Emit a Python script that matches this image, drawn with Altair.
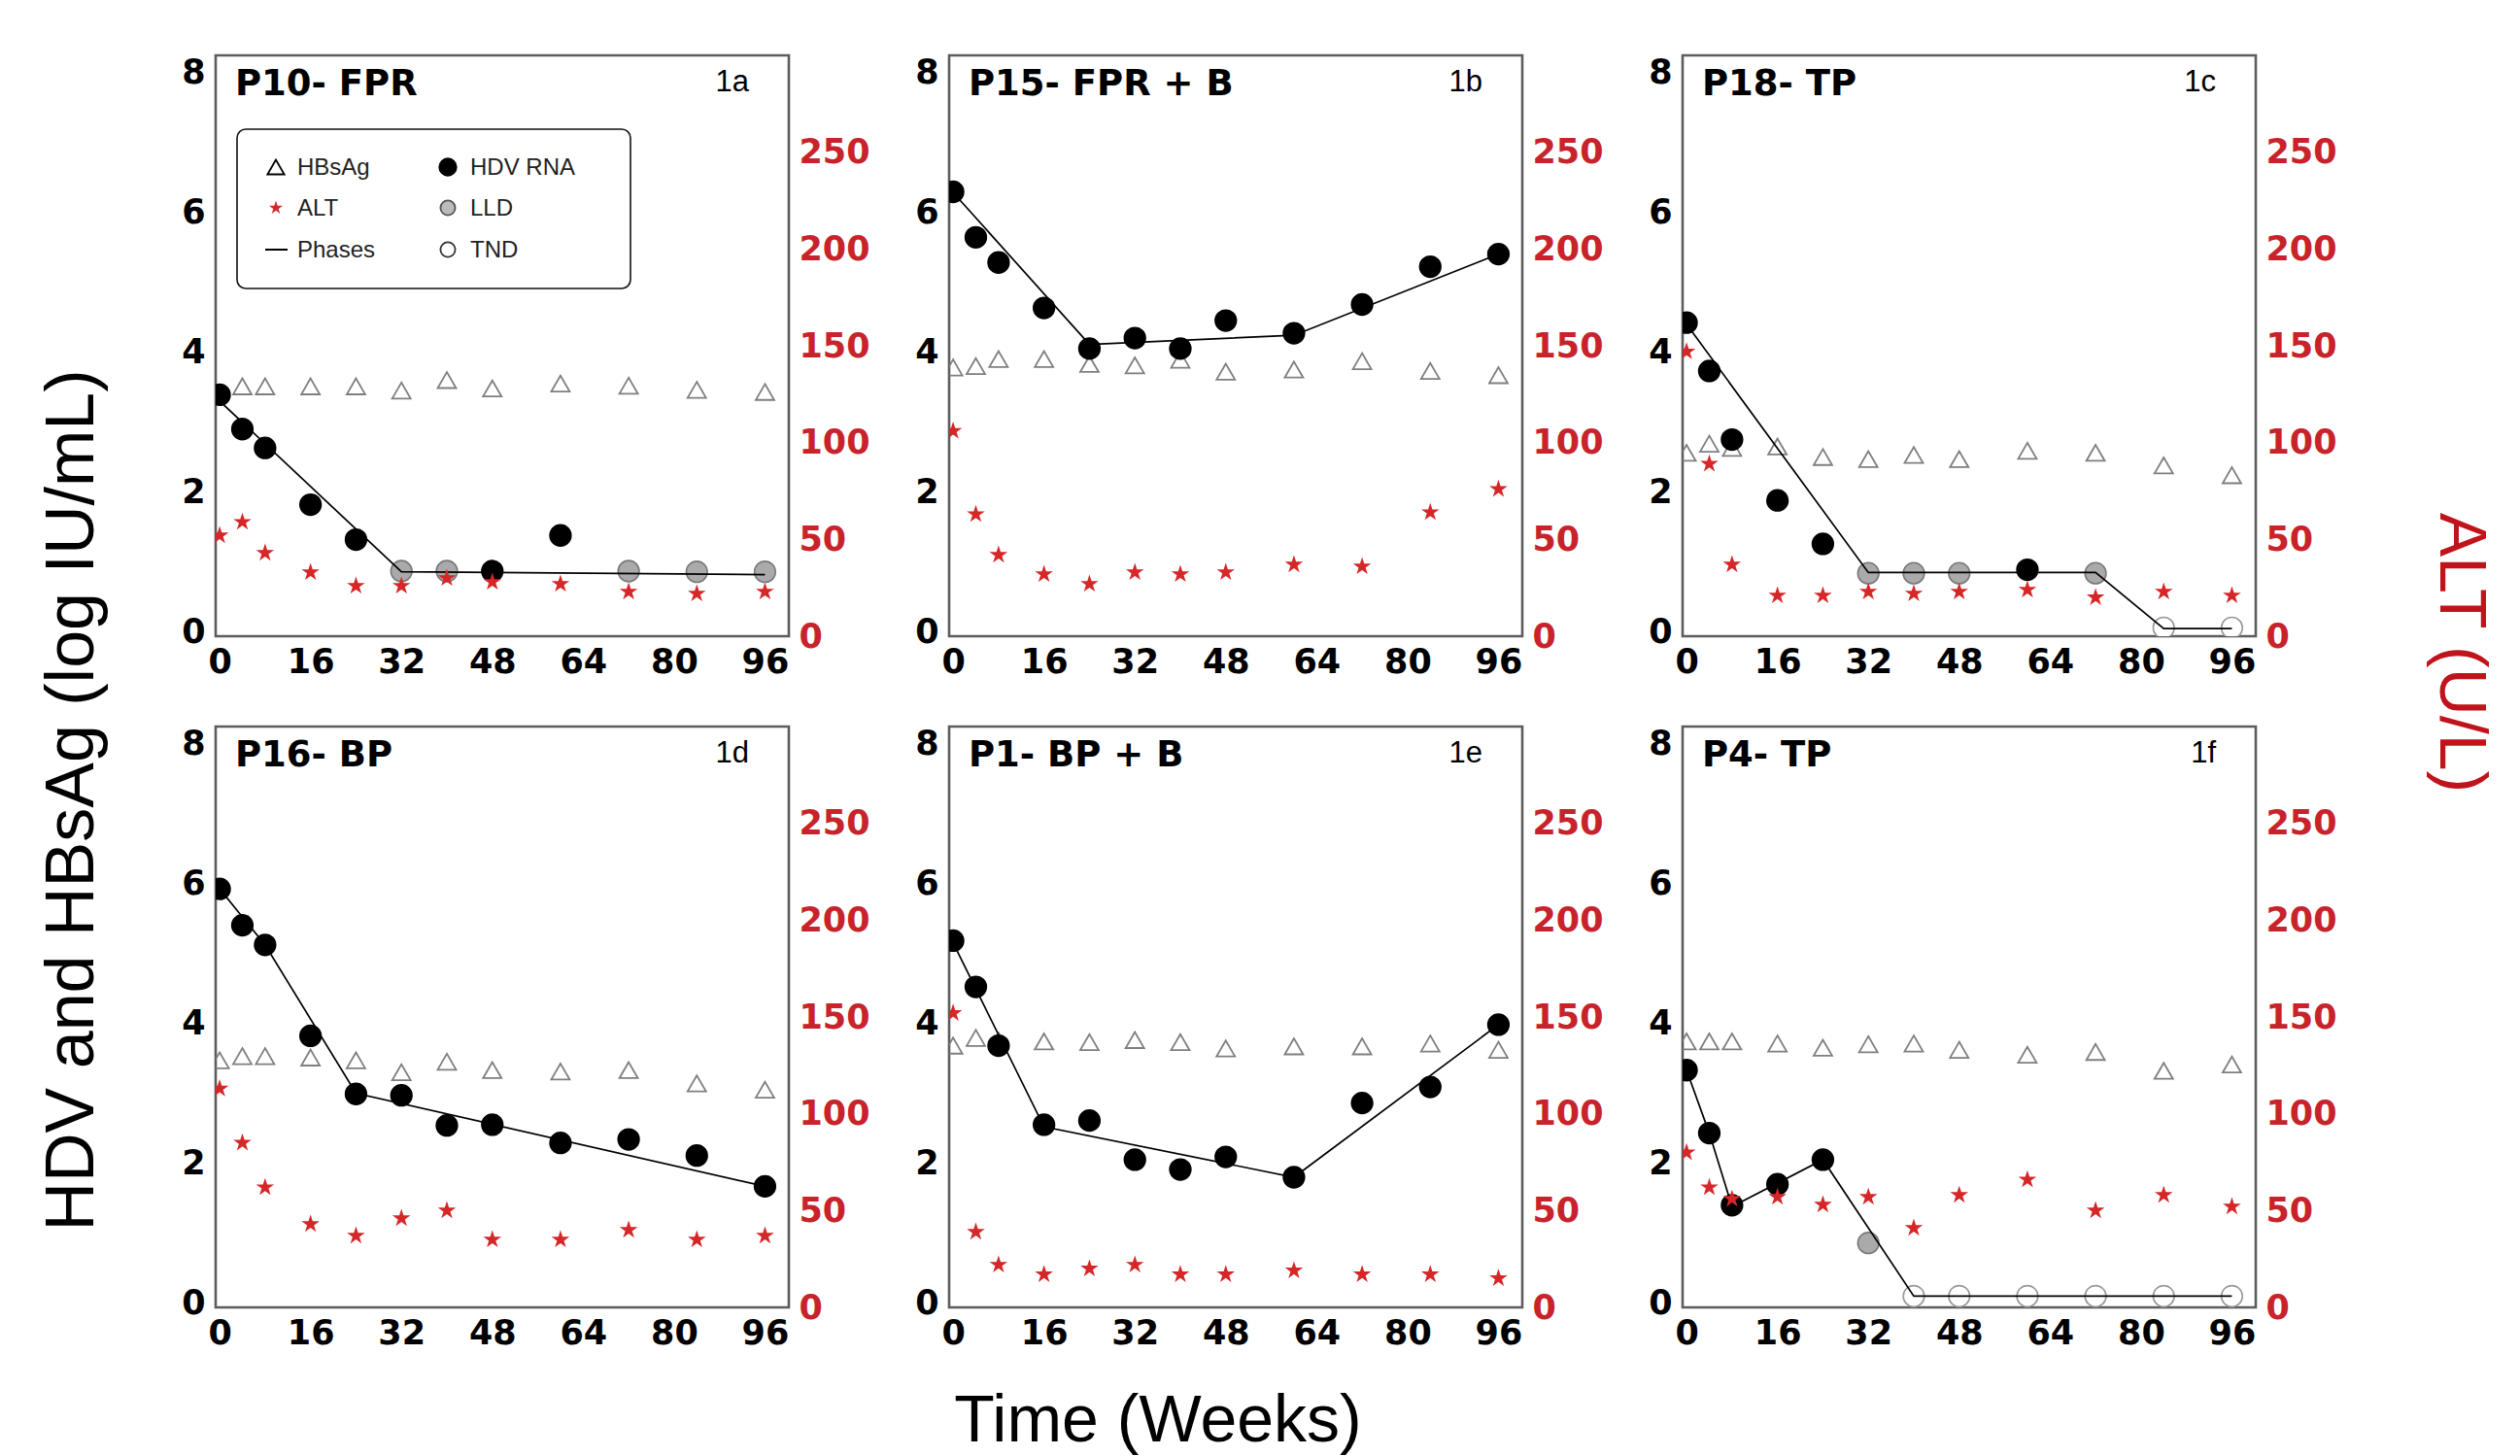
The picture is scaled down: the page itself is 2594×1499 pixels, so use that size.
import altair as alt
import pandas as pd

# ---------------- data ----------------
weeks = [0, 4, 8, 16, 24, 32, 40, 48, 60, 72, 84, 96]
panel_names = ["P10- FPR", "P15- FPR + B", "P18- TP", "P16- BP", "P1- BP + B", "P4- TP"]
panel_tags = ["1a", "1b", "1c", "1d", "1e", "1f"]

# HBsAg (log IU/mL)
hbsag_p10 = [None, 3.51, 3.51, 3.51, 3.51, 3.45, 3.60, 3.48, 3.55, 3.52, 3.46, 3.43]
hbsag_p15 = [3.78, 3.80, 3.90, 3.90, 3.83, 3.81, 3.89, 3.72, 3.75, 3.87, 3.73, 3.67]
hbsag_p18 = [2.56, 2.69, 2.63, 2.65, 2.50, 2.47, 2.53, 2.47, 2.59, 2.56, 2.38, 2.24]
hbsag_p16 = [3.47, 3.53, 3.53, 3.51, 3.47, 3.30, 3.45, 3.33, 3.31, 3.33, 3.14, 3.05]
hbsag_p1 = [3.68, 3.79, 3.75, 3.74, 3.73, 3.76, 3.73, 3.64, 3.67, 3.67, 3.71, 3.62]
hbsag_p4 = [3.74, 3.74, 3.74, 3.71, 3.65, 3.70, 3.71, 3.62, 3.55, 3.59, 3.32, 3.41]

# HDV RNA (log IU/mL)
hdv_p10 = [3.39, 2.90, 2.63, 1.82, 1.32, 0.87, 0.87, 0.87, 1.38, 0.87, 0.86, 0.86]
hdv_p15 = [6.29, 5.64, 5.28, 4.63, 4.05, 4.20, 4.05, 4.45, 4.27, 4.68, 5.22, 5.40]
hdv_p18 = [4.42, 3.73, 2.75, 1.88, 1.26, 0.84, 0.84, 0.84, 0.89, 0.84, 0.06, 0.06]
hdv_p16 = [5.92, 5.40, 5.12, 3.82, 2.99, 2.97, 2.54, 2.55, 2.29, 2.34, 2.11, 1.67]
hdv_p1 = [5.18, 4.52, 3.68, 2.55, 2.61, 2.05, 1.91, 2.09, 1.80, 2.86, 3.09, 3.98]
hdv_p4 = [3.33, 2.43, 1.40, 1.70, 2.05, 0.86, 0.10, 0.10, 0.10, 0.10, 0.10, 0.10]

# HDV RNA status: D = detected, L = below LLD, T = target not detected
status_p10 = ["D", "D", "D", "D", "D", "L", "L", "D", "D", "L", "L", "L"]
status_p15 = ["D"] * 12
status_p18 = ["D", "D", "D", "D", "D", "L", "L", "L", "D", "L", "T", "T"]
status_p16 = ["D"] * 12
status_p1 = ["D"] * 12
status_p4 = ["D", "D", "D", "D", "D", "L", "T", "T", "T", "T", "T", "T"]

# ALT (U/L)
alt_p10 = [52, 59, 43, 33, 26, 26, 30, 28, 27, 23, 22, 23]
alt_p15 = [106, 63, 42, 32, 27, 33, 32, 33, 37, 36, 64, 76]
alt_p18 = [147, 89, 37, 21, 21, 23, 22, 23, 24, 20, 23, 21]
alt_p16 = [113, 85, 62, 43, 37, 46, 50, 35, 35, 40, 35, 37]
alt_p1 = [152, 39, 22, 17, 20, 22, 17, 17, 19, 17, 17, 15]
alt_p4 = [80, 62, 56, 57, 53, 57, 41, 58, 66, 50, 58, 52]

# Phase lines (vertices)
phase_wk_p10 = [0, 32, 96]
phase_val_p10 = [3.30, 0.86, 0.82]
phase_wk_p15 = [0, 24, 60, 96]
phase_val_p15 = [6.28, 4.11, 4.24, 5.40]
phase_wk_p18 = [0, 32, 72, 84, 96]
phase_val_p18 = [4.40, 0.85, 0.85, 0.05, 0.05]
phase_wk_p16 = [0, 8, 24, 96]
phase_val_p16 = [5.92, 5.12, 3.00, 1.67]
phase_wk_p1 = [0, 16, 60, 96]
phase_val_p1 = [5.15, 2.52, 1.80, 3.98]
phase_wk_p4 = [0, 4, 8, 24, 40, 96]
phase_val_p4 = [3.33, 2.43, 1.38, 2.05, 0.10, 0.10]

x_ticks = [0, 16, 32, 48, 64, 80, 96]
left_ticks = [0, 2, 4, 6, 8]
right_ticks = [0, 50, 100, 150, 200, 250]

legend_labels = ["HBsAg", "ALT", "Phases", "HDV RNA", "LLD", "TND"]
y_title = "HDV and HBsAg (log IU/mL)"
alt_title = "ALT (U/L)"
x_title = "Time (Weeks)"

status_names = {"D": "HDV RNA", "L": "LLD", "T": "TND"}

# ---------------- styles ----------------
W, H = 590, 598
RED = "#d62728"
RED_LABEL = "#c8232b"
TICK_FONT = "DejaVu Sans"
TXT_FONT = "Liberation Sans"
# five-pointed star as an SVG path in the [-1, 1] symbol box
STAR = ("M0,-1L0.2245,-0.309L0.951,-0.309L0.3633,0.118L0.588,0.809L0,0.382"
        "L-0.588,0.809L-0.3633,0.118L-0.951,-0.309L-0.2245,-0.309Z")

x_scale = alt.Scale(domain=[-0.7, 100.2], nice=False, zero=False)
yl_scale = alt.Scale(domain=[-0.06, 8.24], nice=False, zero=False)
yr_scale = alt.Scale(domain=[0, 300], nice=False, zero=False)

x_axis = alt.Axis(values=x_ticks, title=None, ticks=False, domain=False, grid=False,
                  labelFont=TICK_FONT, labelFontWeight="bold", labelFontSize=35,
                  labelColor="black", labelPadding=9, labelFlush=False, labelOverlap=False)
yl_axis = alt.Axis(values=left_ticks, title=None, ticks=False, domain=False, grid=False,
                   orient="left", labelFont=TICK_FONT, labelFontWeight="bold",
                   labelFontSize=35, labelColor="black", labelPadding=11,
                   labelFlush=False, labelOverlap=False)
yr_axis = alt.Axis(values=right_ticks, title=None, ticks=False, domain=False, grid=False,
                   orient="right", labelFont=TICK_FONT, labelFontWeight="bold",
                   labelFontSize=35, labelColor=RED_LABEL, labelPadding=10,
                   labelFlush=False, labelOverlap=False)

fill_scale = alt.Scale(domain=["HDV RNA", "LLD", "TND"], range=["black", "#aaaaaa", "white"])
stroke_scale = alt.Scale(domain=["HDV RNA", "LLD", "TND"], range=["black", "#7a7a7a", "#9a9a9a"])

panels_data = [
    (hbsag_p10, hdv_p10, status_p10, alt_p10, phase_wk_p10, phase_val_p10),
    (hbsag_p15, hdv_p15, status_p15, alt_p15, phase_wk_p15, phase_val_p15),
    (hbsag_p18, hdv_p18, status_p18, alt_p18, phase_wk_p18, phase_val_p18),
    (hbsag_p16, hdv_p16, status_p16, alt_p16, phase_wk_p16, phase_val_p16),
    (hbsag_p1, hdv_p1, status_p1, alt_p1, phase_wk_p1, phase_val_p1),
    (hbsag_p4, hdv_p4, status_p4, alt_p4, phase_wk_p4, phase_val_p4),
]


def one_text(txt):
    return pd.DataFrame({"t": [txt]})


def build_legend():
    layers = []
    box = alt.Chart(one_text("box")).mark_rect(
        fill="white", stroke="#111111", strokeWidth=1.6, cornerRadius=9
    ).encode(x=alt.value(22), x2=alt.value(427), y=alt.value(76), y2=alt.value(240))
    layers.append(box)
    row_y = [115, 157, 200]
    col_sym = [62, 239]
    col_txt = [84, 262]
    for i, lab in enumerate(legend_labels):
        c, r = i // 3, i % 3
        sx, sy = col_sym[c], row_y[r]
        d = one_text(lab)
        if lab == "HBsAg":
            sym = alt.Chart(d).mark_point(shape="triangle-up", filled=False, stroke="black",
                                          strokeWidth=1.8, size=300, opacity=1).encode(
                x=alt.value(sx), y=alt.value(sy))
        elif lab == "ALT":
            sym = alt.Chart(d).mark_point(shape=STAR, filled=True, color=RED,
                                          size=220, opacity=1).encode(
                x=alt.value(sx), y=alt.value(sy))
        elif lab == "Phases":
            sym = alt.Chart(d).mark_rule(color="black", strokeWidth=2).encode(
                x=alt.value(sx - 11), x2=alt.value(sx + 12), y=alt.value(sy))
        elif lab == "HDV RNA":
            sym = alt.Chart(d).mark_point(shape="circle", filled=True, fill="black",
                                          stroke="black", size=300, opacity=1).encode(
                x=alt.value(sx), y=alt.value(sy))
        elif lab == "LLD":
            sym = alt.Chart(d).mark_point(shape="circle", filled=True, fill="#bbbbbb",
                                          stroke="#555555", strokeWidth=1.8, size=230,
                                          opacity=1).encode(x=alt.value(sx), y=alt.value(sy))
        else:
            sym = alt.Chart(d).mark_point(shape="circle", filled=True, fill="white",
                                          stroke="#333333", strokeWidth=1.8, size=230,
                                          opacity=1).encode(x=alt.value(sx), y=alt.value(sy))
        layers.append(sym)
        txt = alt.Chart(d).mark_text(align="left", baseline="middle", font=TXT_FONT,
                                     fontSize=24, color="#222222").encode(
            x=alt.value(col_txt[c]), y=alt.value(sy + 1), text="t:N")
        layers.append(txt)
    return layers


def make_panel(idx):
    hbs, hdv, status, altv, pw, pv = panels_data[idx]
    df_hbs = pd.DataFrame({"week": weeks, "value": hbs}).dropna()
    df_hbs["value"] = df_hbs["value"].astype(float)
    df_hdv = pd.DataFrame({"week": weeks, "value": hdv,
                           "status": [status_names[s] for s in status]})
    df_alt = pd.DataFrame({"week": weeks, "alt": altv})
    df_ph = pd.DataFrame({"week": pw, "value": pv})

    X = alt.X("week:Q", scale=x_scale, axis=x_axis)
    Y_axis = alt.Y("value:Q", scale=yl_scale, axis=yl_axis)
    Y_plain = alt.Y("value:Q", scale=yl_scale, axis=None)

    tri = alt.Chart(df_hbs).mark_point(
        shape="triangle-up", filled=False, stroke="#7f7f7f", strokeWidth=1.8,
        size=360, opacity=1, clip=True
    ).encode(x=X, y=Y_axis)
    pts = alt.Chart(df_hdv).mark_point(
        shape="circle", filled=True, size=470, strokeWidth=1.6, opacity=1, clip=True
    ).encode(
        x=X, y=Y_plain,
        fill=alt.Fill("status:N", scale=fill_scale, legend=None),
        stroke=alt.Stroke("status:N", scale=stroke_scale, legend=None),
    )
    line = alt.Chart(df_ph).mark_line(color="black", strokeWidth=1.7, clip=True).encode(
        x=X, y=Y_plain)
    stars = alt.Chart(df_alt).mark_point(
        shape=STAR, filled=True, color=RED, size=380, opacity=1, clip=True
    ).encode(x=X, y=alt.Y("alt:Q", scale=yr_scale, axis=yr_axis))

    title = alt.Chart(one_text(panel_names[idx])).mark_text(
        align="left", baseline="alphabetic", font=TICK_FONT, fontWeight="bold",
        fontSize=37, color="black"
    ).encode(x=alt.value(20), y=alt.value(41), text="t:N")
    tag = alt.Chart(one_text(panel_tags[idx])).mark_text(
        align="right", baseline="alphabetic", font=TXT_FONT, fontSize=31, color="black"
    ).encode(x=alt.value(549), y=alt.value(37), text="t:N")

    layers = [tri, pts, line, stars, title, tag]
    if idx == 0:
        layers += build_legend()
        layers.append(alt.Chart(one_text(y_title)).mark_text(
            align="center", baseline="middle", font=TXT_FONT, fontSize=70,
            angle=270, color="black"
        ).encode(x=alt.value(-147), y=alt.value(767), text="t:N"))
        # invisible anchor that fixes the page offset of the whole figure
        layers.append(alt.Chart(one_text("anchor")).mark_point(
            opacity=0, size=4, filled=True
        ).encode(x=alt.value(-206), y=alt.value(-41)))
    if idx == 2:
        layers.append(alt.Chart(one_text(alt_title)).mark_text(
            align="center", baseline="middle", font=TXT_FONT, fontSize=68,
            angle=90, color="#c0141c"
        ).encode(x=alt.value(800), y=alt.value(615), text="t:N"))
    if idx == 4:
        layers.append(alt.Chart(one_text(x_title)).mark_text(
            align="center", baseline="middle", font=TXT_FONT, fontSize=68,
            color="black"
        ).encode(x=alt.value(215), y=alt.value(716), text="t:N"))

    return alt.layer(*layers).resolve_scale(y="independent").properties(width=W, height=H)


panels = [make_panel(i) for i in range(6)]

chart = alt.concat(
    *panels, columns=3, spacing={"row": 93, "column": 165}, bounds="flush"
).configure_view(stroke="#5c5c5c", strokeWidth=2.6)

chart.save("out.html", embed_options={"renderer": "svg", "actions": False})
